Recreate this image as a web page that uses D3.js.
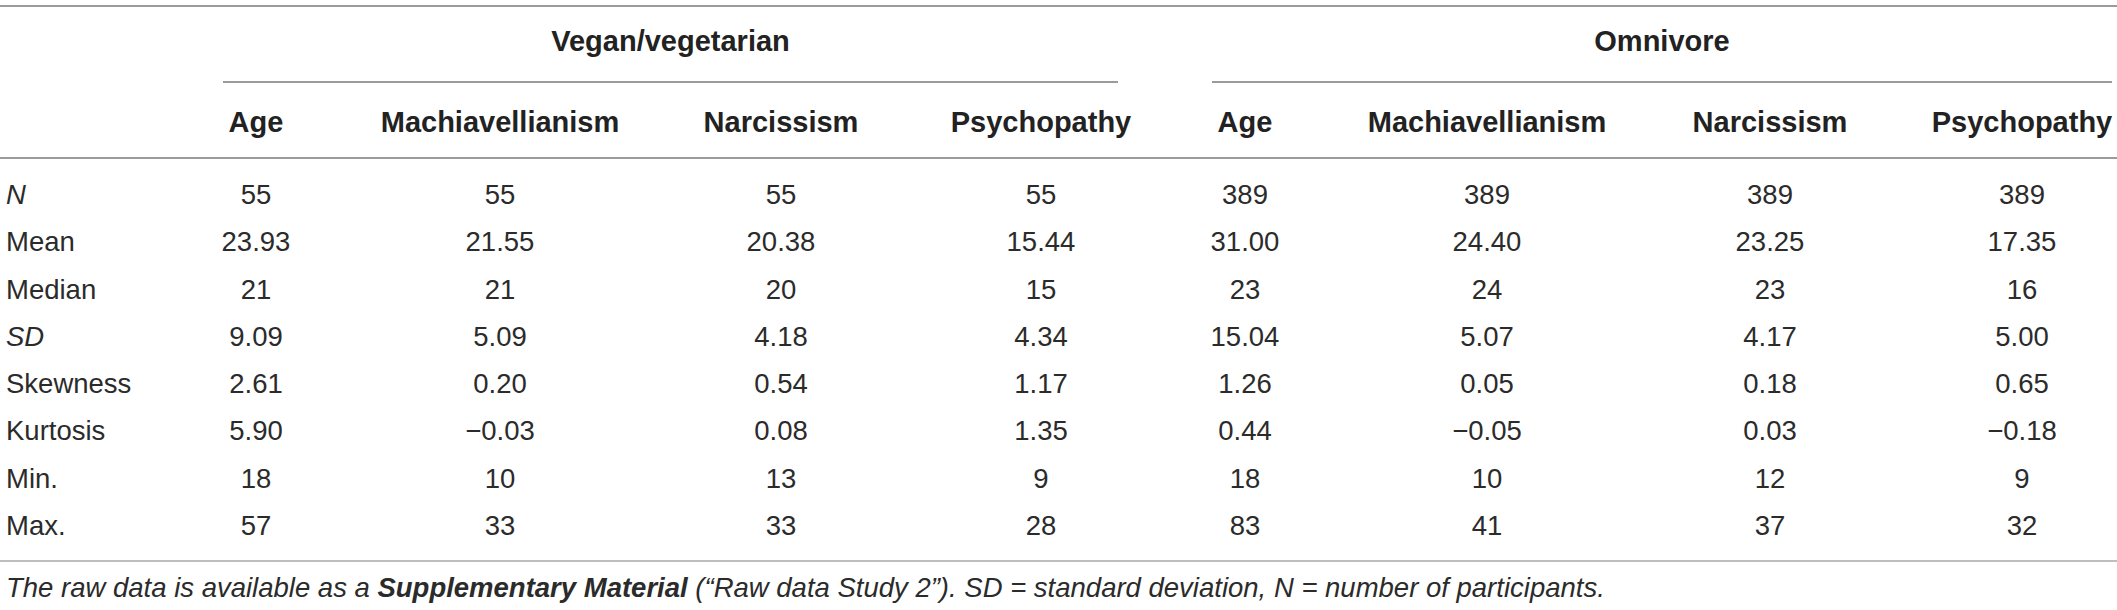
<!DOCTYPE html>
<html>
<head>
<meta charset="utf-8">
<script src="https://cdn.jsdelivr.net/npm/d3@7"></script>
<style>
  html, body { margin: 0; padding: 0; background: #fff; }
  svg { display: block; font-family: "Liberation Sans", Helvetica, Arial, sans-serif; }
</style>
</head>
<body>
<svg id="chart" width="2117" height="610"></svg>
<script>
"use strict";
// table content
var groups = ["Vegan/vegetarian", "Omnivore"];
var measures = ["Age", "Machiavellianism", "Narcissism", "Psychopathy"];
var rowLabels = ["N", "Mean", "Median", "SD", "Skewness", "Kurtosis", "Min.", "Max."];
var italicRows = ["N", "SD"];
var veganValues = [
    ["55", "55", "55", "55"],
    ["23.93", "21.55", "20.38", "15.44"],
    ["21", "21", "20", "15"],
    ["9.09", "5.09", "4.18", "4.34"],
    ["2.61", "0.20", "0.54", "1.17"],
    ["5.90", "\u22120.03", "0.08", "1.35"],
    ["18", "10", "13", "9"],
    ["57", "33", "33", "28"]
];
var omnivoreValues = [
    ["389", "389", "389", "389"],
    ["31.00", "24.40", "23.25", "17.35"],
    ["23", "24", "23", "16"],
    ["15.04", "5.07", "4.17", "5.00"],
    ["1.26", "0.05", "0.18", "0.65"],
    ["0.44", "\u22120.05", "0.03", "\u22120.18"],
    ["18", "10", "12", "9"],
    ["83", "41", "37", "32"]
];
var footnote = [
    { t: "The raw data is available as a ", b: false },
    { t: "Supplementary Material", b: true },
    { t: " (\u201cRaw data Study 2\u201d). SD = standard deviation, N = number of participants.", b: false }
];

var svg = d3.select("#chart");
var W = 2117;

// column keys: group index + measure index
var colKeys = [];
groups.forEach(function (g, gi) {
    measures.forEach(function (m, mi) { colKeys.push(gi + "-" + mi); });
});
var colX = d3.scaleOrdinal()
    .domain(colKeys)
    .range([256, 500, 781, 1041, 1245, 1487, 1770, 2022]);
var groupSpan = d3.scaleOrdinal()
    .domain(groups)
    .range([[223, 1118], [1212, 2112]]);
var rowY = d3.scalePoint()
    .domain(rowLabels)
    .range([204, 535]);

var ink = "#222";
var body = "#2b2b2b";
var rule = "#7a7a7a";

function hline(x1, x2, y, color) {
    svg.append("line")
        .attr("x1", x1).attr("x2", x2)
        .attr("y1", y).attr("y2", y)
        .attr("stroke", color || rule)
        .attr("stroke-width", 1.6);
}

hline(0, W, 6);
hline(0, W, 158);
hline(0, W, 561, "#a9a9a9");

// group headers
var gh = svg.selectAll(".grp")
    .data(groups)
  .enter().append("g")
    .attr("class", "grp");
gh.append("text")
    .attr("x", function (d) { var s = groupSpan(d); return (s[0] + s[1]) / 2; })
    .attr("y", 51)
    .attr("text-anchor", "middle")
    .attr("font-size", 29)
    .attr("font-weight", "bold")
    .attr("fill", ink)
    .text(function (d) { return d; });
gh.append("line")
    .attr("x1", function (d) { return groupSpan(d)[0]; })
    .attr("x2", function (d) { return groupSpan(d)[1]; })
    .attr("y1", 82).attr("y2", 82)
    .attr("stroke", rule)
    .attr("stroke-width", 1.6);

// column headers
svg.selectAll(".colhead")
    .data(colKeys)
  .enter().append("text")
    .attr("class", "colhead")
    .attr("x", function (d) { return colX(d); })
    .attr("y", 132)
    .attr("text-anchor", "middle")
    .attr("font-size", 29)
    .attr("font-weight", "bold")
    .attr("fill", ink)
    .text(function (d) { return measures[+d.split("-")[1]]; });

// row labels
svg.selectAll(".rowlab")
    .data(rowLabels)
  .enter().append("text")
    .attr("class", "rowlab")
    .attr("x", 6)
    .attr("y", function (d) { return rowY(d); })
    .attr("font-size", 27.5)
    .attr("font-style", function (d) { return italicRows.indexOf(d) >= 0 ? "italic" : "normal"; })
    .attr("fill", body)
    .text(function (d) { return d; });

// cells
var cells = [];
rowLabels.forEach(function (r, ri) {
    [veganValues, omnivoreValues].forEach(function (tbl, gi) {
        tbl[ri].forEach(function (v, mi) {
            cells.push({ row: r, col: gi + "-" + mi, v: v });
        });
    });
});
svg.selectAll(".cell")
    .data(cells)
  .enter().append("text")
    .attr("class", "cell")
    .attr("x", function (d) { return colX(d.col); })
    .attr("y", function (d) { return rowY(d.row); })
    .attr("text-anchor", "middle")
    .attr("font-size", 27.5)
    .attr("fill", body)
    .text(function (d) { return d.v; });

// footnote
var fn = svg.append("text")
    .attr("x", 6)
    .attr("y", 597)
    .attr("font-size", 27.5)
    .attr("font-style", "italic")
    .attr("fill", body);
fn.selectAll("tspan")
    .data(footnote)
  .enter().append("tspan")
    .attr("font-weight", function (d) { return d.b ? "bold" : "normal"; })
    .text(function (d) { return d.t; });
</script>
</body>
</html>
